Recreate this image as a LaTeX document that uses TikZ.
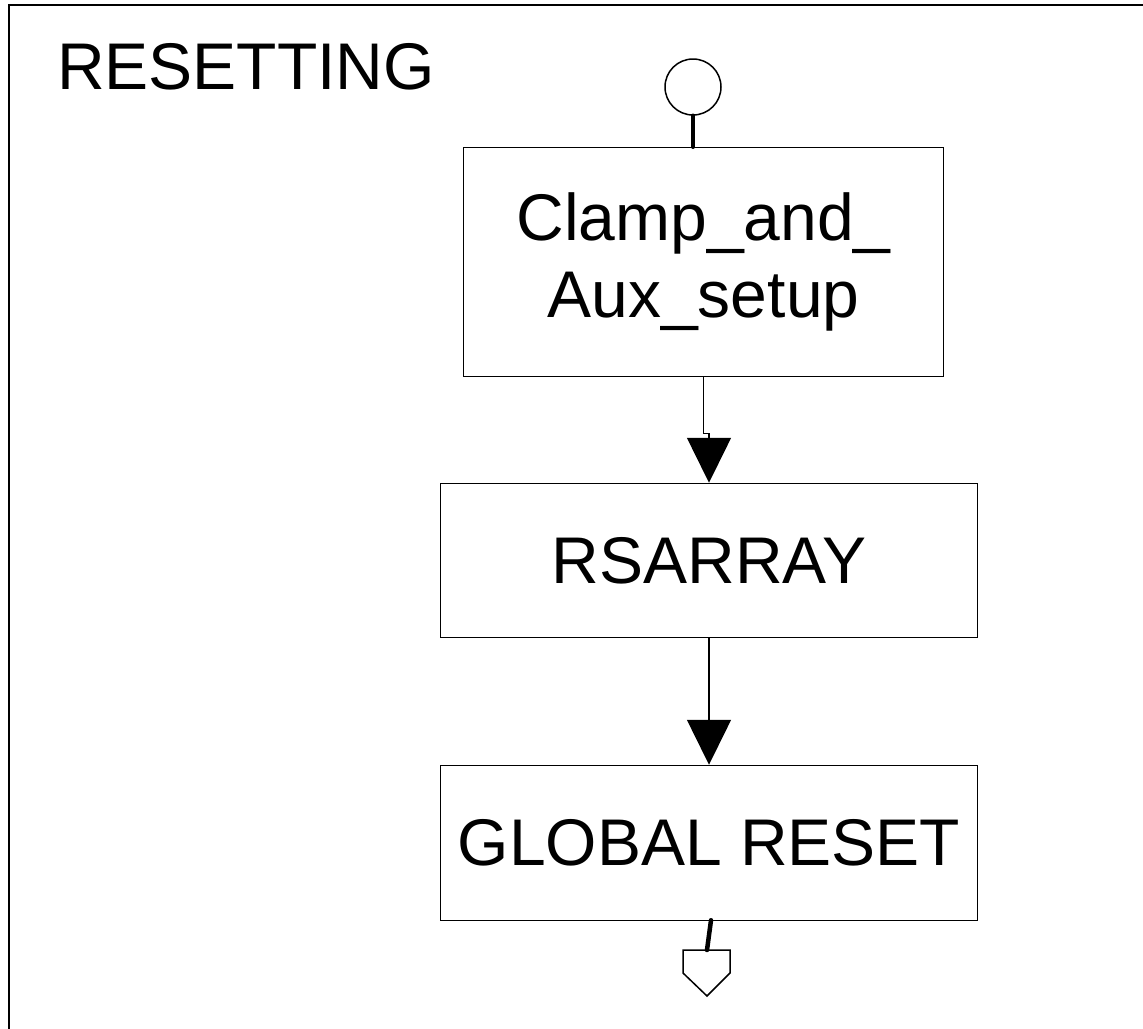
\documentclass[tikz,border=0pt]{standalone}
\usepackage{fontspec}
\setmainfont{Liberation Sans}
\usetikzlibrary{arrows.meta}
\begin{document}
\begin{tikzpicture}[x=1pt,y=-1pt,
  bigtext/.style={font=\fontsize{66}{77}\selectfont},
  procbox/.style={draw=black,line width=1.5pt,fill=white,inner sep=0pt,align=center,bigtext},
  stub/.style={line width=4.5pt,line cap=round},
  flow/.style={line width=1.5pt,-{Triangle[width=44pt,length=45pt]}},
  termshape/.style={draw=black,line width=1.5pt,fill=white}]
\useasboundingbox (0,0) rectangle (1143,1028);
% outer frame (extends past the right and bottom edges)
\draw[line width=2pt] (9,5) rectangle (1160,1045);
\node[bigtext,anchor=base west,inner sep=0pt] (title) at (57,89) {RESETTING};
% start circle
\node[draw=black,line width=1.5pt,circle,minimum size=56pt,inner sep=0pt] (start) at (693,87) {};
% process boxes
\node[procbox,minimum width=480pt,minimum height=229pt] (b1) at (703.5,262) {Clamp\_and\_\\Aux\_setup};
\node[procbox,minimum width=537pt,minimum height=154pt] (b2) at (709,560.5) {RSARRAY};
\node[procbox,minimum width=537pt,minimum height=155pt] (b3) at (709,843) {GLOBAL RESET};
% connectors
\draw[stub] (start.south) -- (start.south |- b1.north);
\draw[flow] (b1.south) -- ++(0,56) -| (b2.north);
\draw[flow] (b2.south) -- (b3.north);
% off-page terminator
\coordinate (pt) at (707,950);
\draw[termshape] (683,950) -- (730,950) -- (730,973) -- (707,996) -- (683,973) -- cycle;
\draw[stub] ([xshift=2pt,yshift=1pt]b3.south) -- (pt);
\end{tikzpicture}
\end{document}
